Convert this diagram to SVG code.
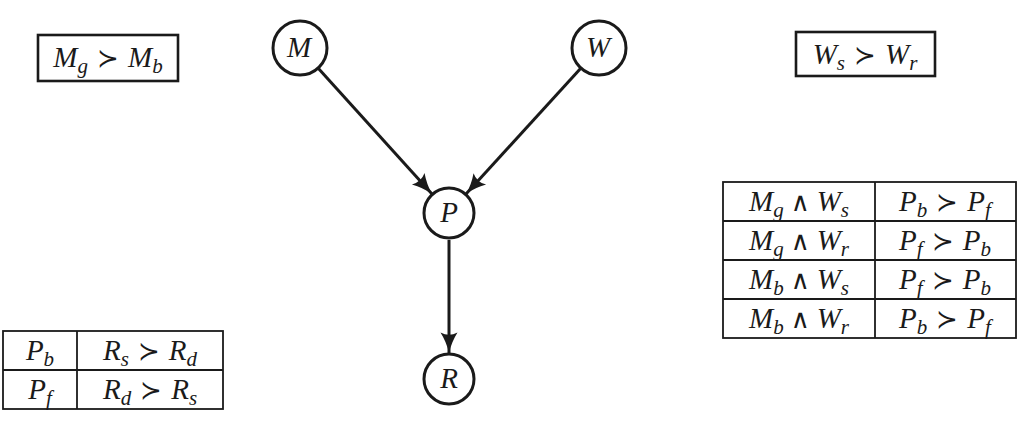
<svg xmlns="http://www.w3.org/2000/svg" width="1024" height="422" viewBox="0 0 1024 422">
<style>
.m{font-family:"Liberation Serif","DejaVu Serif",serif;font-size:29px;font-style:italic;fill:#1a1a1a;text-anchor:middle}
.u{font-style:normal;font-size:26px}
.s{font-size:21px}
.node{fill:#fff;stroke:#1a1a1a;stroke-width:3}
.box{fill:#fff;stroke:#1a1a1a;stroke-width:2.6}
.tab{fill:none;stroke:#1a1a1a;stroke-width:1.8}
.edge{stroke:#1a1a1a;stroke-width:3;fill:none;marker-end:url(#ah)}
</style>
<defs>
<marker id="ah" markerUnits="userSpaceOnUse" markerWidth="22" markerHeight="18" refX="21" refY="9" orient="auto" viewBox="0 0 22 18">
<path d="M21,9 Q10,6.5 0.5,0.5 Q5,9 0.5,17.5 Q10,11.5 21,9 Z" fill="#1a1a1a"/>
</marker>
</defs>
<rect width="1024" height="422" fill="#fff"/>
<g id="connectors">
<line class="edge" x1="318" y1="68" x2="432" y2="194"/>
<line class="edge" x1="581" y1="68" x2="466" y2="194"/>
<line class="edge" x1="449" y1="240" x2="449" y2="353"/>
</g>
<g id="node-M"><circle class="node" cx="300" cy="48" r="27"/><text class="m" x="299" y="57">M</text></g>
<g id="node-W"><circle class="node" cx="599" cy="48" r="27"/><text class="m" x="598" y="57">W</text></g>
<g id="node-P"><circle class="node" cx="449" cy="213" r="25"/><text class="m" x="449" y="222">P</text></g>
<g id="node-R"><circle class="node" cx="449" cy="379" r="25"/><text class="m" x="449" y="388">R</text></g>
<g id="box-M">
<rect class="box" x="38" y="35" width="140" height="46"/>
<text class="m" x="108" y="67">M<tspan class="s" dy="6">g</tspan><tspan class="u" dx="9" dy="-6">≻</tspan><tspan dx="9">M</tspan><tspan class="s" dy="6">b</tspan></text>
</g>
<g id="box-W">
<rect class="box" x="796" y="32" width="139" height="44"/>
<text class="m" x="865" y="64">W<tspan class="s" dy="6">s</tspan><tspan class="u" dx="9" dy="-6">≻</tspan><tspan dx="9">W</tspan><tspan class="s" dy="6">r</tspan></text>
</g>
<g id="table-P">
<rect class="tab" x="723" y="182" width="293" height="156"/>
<line class="tab" x1="875" y1="182" x2="875" y2="338"/>
<line class="tab" x1="723" y1="221" x2="1016" y2="221"/>
<line class="tab" x1="723" y1="260" x2="1016" y2="260"/>
<line class="tab" x1="723" y1="299" x2="1016" y2="299"/>
<text class="m" x="799" y="211">M<tspan class="s" dy="6">g</tspan><tspan class="u" dx="7" dy="-6">∧</tspan><tspan dx="7">W</tspan><tspan class="s" dy="6">s</tspan></text>
<text class="m" x="799" y="250">M<tspan class="s" dy="6">g</tspan><tspan class="u" dx="7" dy="-6">∧</tspan><tspan dx="7">W</tspan><tspan class="s" dy="6">r</tspan></text>
<text class="m" x="799" y="289">M<tspan class="s" dy="6">b</tspan><tspan class="u" dx="7" dy="-6">∧</tspan><tspan dx="7">W</tspan><tspan class="s" dy="6">s</tspan></text>
<text class="m" x="799" y="328">M<tspan class="s" dy="6">b</tspan><tspan class="u" dx="7" dy="-6">∧</tspan><tspan dx="7">W</tspan><tspan class="s" dy="6">r</tspan></text>
<text class="m" x="945" y="211">P<tspan class="s" dy="6">b</tspan><tspan class="u" dx="9" dy="-6">≻</tspan><tspan dx="9">P</tspan><tspan class="s" dy="6">f</tspan></text>
<text class="m" x="945" y="250">P<tspan class="s" dy="6">f</tspan><tspan class="u" dx="9" dy="-6">≻</tspan><tspan dx="9">P</tspan><tspan class="s" dy="6">b</tspan></text>
<text class="m" x="945" y="289">P<tspan class="s" dy="6">f</tspan><tspan class="u" dx="9" dy="-6">≻</tspan><tspan dx="9">P</tspan><tspan class="s" dy="6">b</tspan></text>
<text class="m" x="945" y="328">P<tspan class="s" dy="6">b</tspan><tspan class="u" dx="9" dy="-6">≻</tspan><tspan dx="9">P</tspan><tspan class="s" dy="6">f</tspan></text>
</g>
<g id="table-R">
<rect class="tab" x="3" y="331" width="220" height="78"/>
<line class="tab" x1="77" y1="331" x2="77" y2="409"/>
<line class="tab" x1="3" y1="370" x2="223" y2="370"/>
<text class="m" x="40" y="360">P<tspan class="s" dy="6">b</tspan></text>
<text class="m" x="40" y="399">P<tspan class="s" dy="6">f</tspan></text>
<text class="m" x="150" y="360">R<tspan class="s" dy="6">s</tspan><tspan class="u" dx="9" dy="-6">≻</tspan><tspan dx="9">R</tspan><tspan class="s" dy="6">d</tspan></text>
<text class="m" x="150" y="399">R<tspan class="s" dy="6">d</tspan><tspan class="u" dx="9" dy="-6">≻</tspan><tspan dx="9">R</tspan><tspan class="s" dy="6">s</tspan></text>
</g>
</svg>
